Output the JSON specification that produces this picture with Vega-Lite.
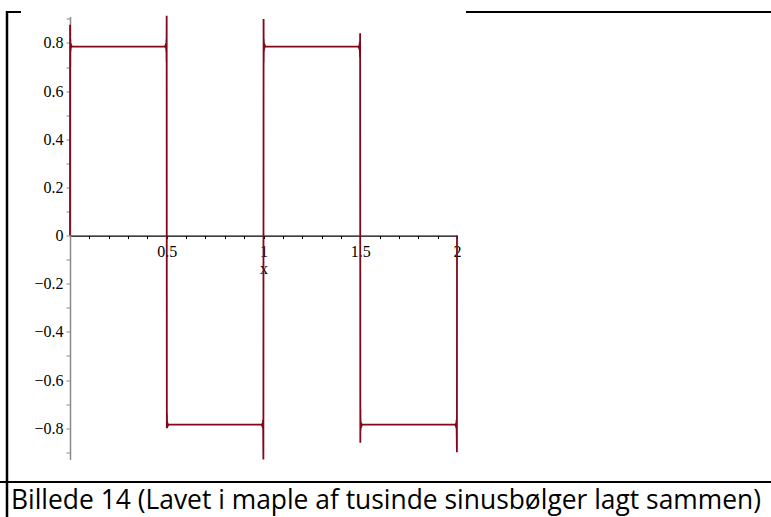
{
  "$schema": "https://vega.github.io/schema/vega-lite/v6.json",
  "autosize": {"type": "none"},
  "padding": {"left": 70, "top": 16.5, "right": 314, "bottom": 57.5},
  "width": 387,
  "height": 443,
  "background": "#ffffff",
  "config": {
    "view": {"stroke": null},
    "axis": {"grid": false, "labelFont": "Liberation Serif", "titleFont": "Liberation Serif"}
  },
  "title": {
    "text": "Billede 14 (Lavet i maple af tusinde sinusbølger lagt sammen)",
    "orient": "bottom",
    "anchor": "start",
    "frame": "group",
    "dx": -59,
    "offset": -9,
    "font": "Open Sans",
    "fontSize": 26.4,
    "fontWeight": "normal",
    "color": "#000000",
    "baseline": "alphabetic"
  },
  "datasets": {
    "series": [
      {"x": 0, "y": 0},
      {"x": 0.0004, "y": 0.876},
      {"x": 0.001, "y": 0.7},
      {"x": 0.0016, "y": 0.815},
      {"x": 0.0024, "y": 0.765},
      {"x": 0.0034, "y": 0.8},
      {"x": 0.0048, "y": 0.778},
      {"x": 0.0068, "y": 0.79},
      {"x": 0.0095, "y": 0.785},
      {"x": 0.49, "y": 0.785},
      {"x": 0.4932, "y": 0.79},
      {"x": 0.4952, "y": 0.778},
      {"x": 0.4966, "y": 0.8},
      {"x": 0.4976, "y": 0.765},
      {"x": 0.4984, "y": 0.815},
      {"x": 0.499, "y": 0.72},
      {"x": 0.4996, "y": 0.913},
      {"x": 0.5004, "y": -0.8},
      {"x": 0.501, "y": -0.74},
      {"x": 0.5016, "y": -0.8},
      {"x": 0.5024, "y": -0.772},
      {"x": 0.5034, "y": -0.795},
      {"x": 0.505, "y": -0.78},
      {"x": 0.507, "y": -0.788},
      {"x": 0.5095, "y": -0.785},
      {"x": 0.99, "y": -0.785},
      {"x": 0.9932, "y": -0.79},
      {"x": 0.9952, "y": -0.778},
      {"x": 0.9966, "y": -0.8},
      {"x": 0.9976, "y": -0.765},
      {"x": 0.9984, "y": -0.82},
      {"x": 0.9994, "y": -0.93},
      {"x": 1.0004, "y": 0.9},
      {"x": 1.001, "y": 0.72},
      {"x": 1.0016, "y": 0.815},
      {"x": 1.0024, "y": 0.765},
      {"x": 1.0034, "y": 0.8},
      {"x": 1.0048, "y": 0.778},
      {"x": 1.0068, "y": 0.79},
      {"x": 1.0095, "y": 0.785},
      {"x": 1.49, "y": 0.785},
      {"x": 1.4932, "y": 0.78},
      {"x": 1.4952, "y": 0.792},
      {"x": 1.4966, "y": 0.77},
      {"x": 1.4976, "y": 0.805},
      {"x": 1.4986, "y": 0.74},
      {"x": 1.4994, "y": 0.84},
      {"x": 1.5004, "y": -0.86},
      {"x": 1.501, "y": -0.72},
      {"x": 1.5016, "y": -0.81},
      {"x": 1.5024, "y": -0.77},
      {"x": 1.5034, "y": -0.8},
      {"x": 1.505, "y": -0.778},
      {"x": 1.507, "y": -0.79},
      {"x": 1.5095, "y": -0.785},
      {"x": 1.99, "y": -0.785},
      {"x": 1.9932, "y": -0.79},
      {"x": 1.9952, "y": -0.778},
      {"x": 1.9966, "y": -0.8},
      {"x": 1.9976, "y": -0.765},
      {"x": 1.9986, "y": -0.83},
      {"x": 1.9995, "y": -0.9},
      {"x": 2, "y": 0}
    ]
  },
  "layer": [
    {
      "data": {"name": "series"},
      "mark": {"type": "line", "color": "#80081a", "strokeWidth": 1.8, "clip": false},
      "encoding": {
        "x": {
          "field": "x",
          "type": "quantitative",
          "scale": {"domain": [0, 2], "nice": false, "zero": false},
          "axis": {
            "orient": "bottom",
            "offset": {"expr": "scale('y', 0) - height"},
            "values": [0.1, 0.2, 0.3, 0.4, 0.5, 0.6, 0.7, 0.8, 0.9, 1, 1.1, 1.2, 1.3, 1.4, 1.5, 1.6, 1.7, 1.8, 1.9, 2],
            "labelExpr": "round(datum.value * 10) % 5 === 0 ? format(datum.value, '.1~f') : ''",
            "labelOverlap": false,
            "labelFlush": false,
            "labelFontSize": 16,
            "labelColor": "#000000",
            "labelPadding": 5,
            "tickSize": 3,
            "tickColor": "#000000",
            "domainColor": "#000000",
            "domainWidth": 1.2,
            "title": "x",
            "titleFontSize": 16,
            "titleFontWeight": "normal",
            "titleColor": "#000000",
            "titlePadding": 1
          }
        },
        "y": {
          "field": "y",
          "type": "quantitative",
          "scale": {"domain": [-0.93, 0.91], "nice": false, "zero": false},
          "axis": {
            "orient": "left",
            "values": [-0.9, -0.8, -0.7, -0.6, -0.5, -0.4, -0.3, -0.2, -0.1, 0, 0.1, 0.2, 0.3, 0.4, 0.5, 0.6, 0.7, 0.8, 0.9],
            "labelExpr": "round(datum.value * 10) % 2 === 0 ? format(datum.value, '.1~f') : ''",
            "labelOverlap": false,
            "labelFlush": false,
            "labelFontSize": 16,
            "labelColor": "#000000",
            "labelPadding": 3,
            "tickSize": 4,
            "tickColor": "#8a8a8a",
            "domainColor": "#8a8a8a",
            "domainWidth": 1.5,
            "title": null
          }
        }
      }
    },
    {
      "data": {"values": [{}]},
      "mark": {"type": "rule", "color": "#000000", "strokeWidth": 2.5},
      "encoding": {"x": {"value": -63}, "y": {"value": -5.5}, "y2": {"value": 500.5}}
    },
    {
      "data": {"values": [{}]},
      "mark": {"type": "rule", "color": "#000000", "strokeWidth": 2},
      "encoding": {"x": {"value": -64}, "x2": {"value": -49}, "y": {"value": -4.5}}
    },
    {
      "data": {"values": [{}]},
      "mark": {"type": "rule", "color": "#000000", "strokeWidth": 2},
      "encoding": {"x": {"value": 396}, "x2": {"value": 701}, "y": {"value": -4.5}}
    },
    {
      "data": {"values": [{}]},
      "mark": {"type": "rule", "color": "#000000", "strokeWidth": 2},
      "encoding": {"x": {"value": -70}, "x2": {"value": 701}, "y": {"value": 465.5}}
    }
  ]
}
